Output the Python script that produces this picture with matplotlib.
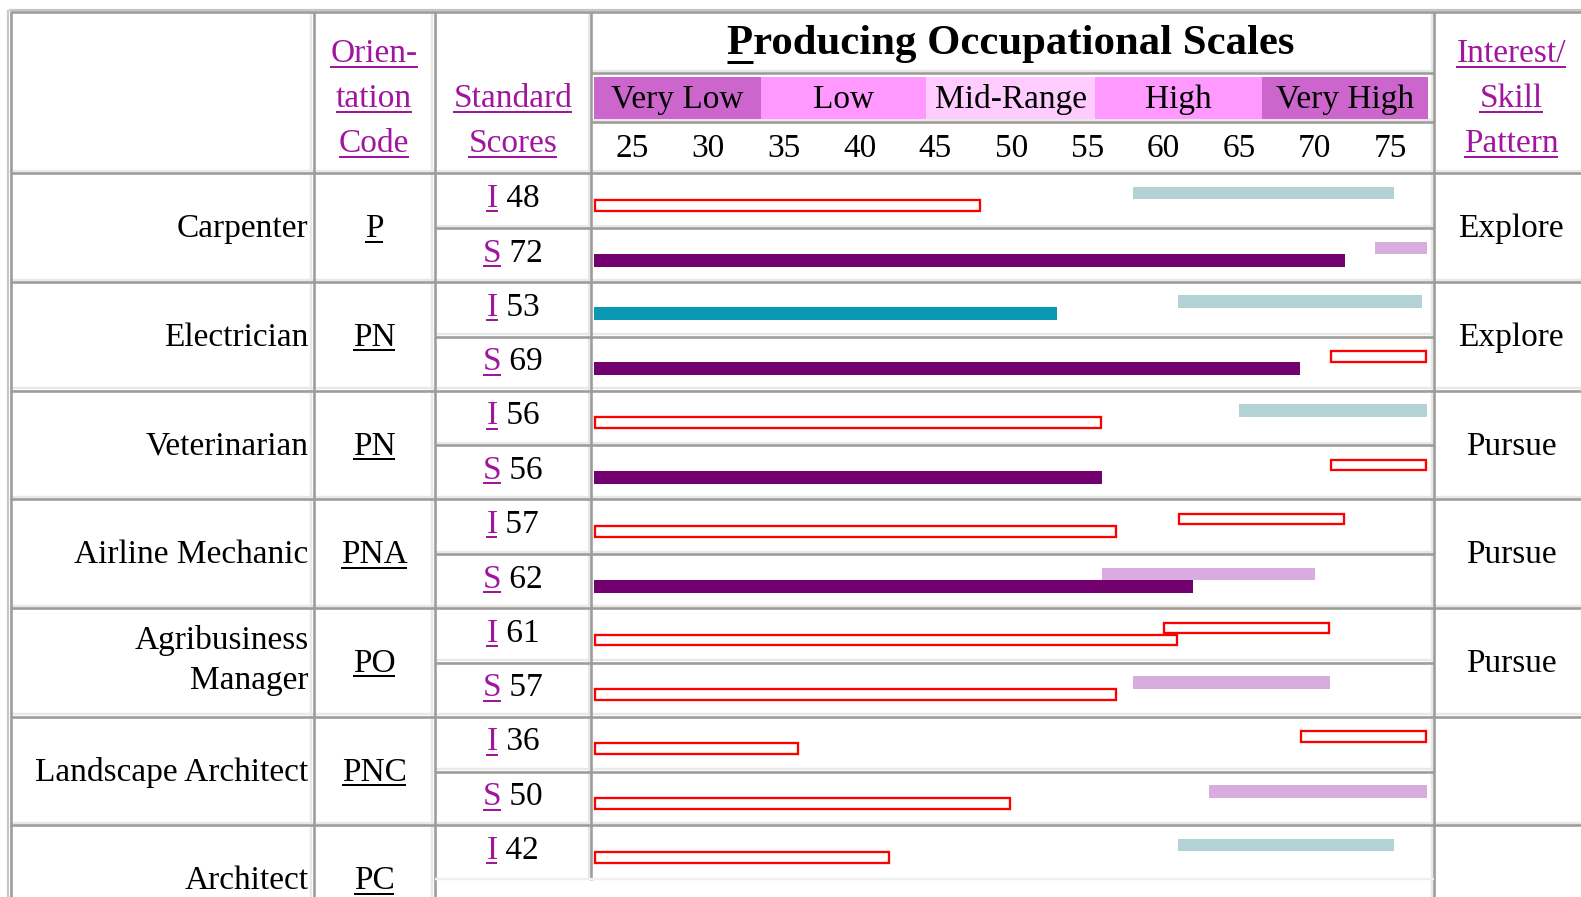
import matplotlib
matplotlib.use('Agg')
import matplotlib.pyplot as plt

plt.rcParams['font.family'] = ['Liberation Serif', 'DejaVu Serif']

# ---------------- data ----------------
occupations = ["Carpenter", "Electrician", "Veterinarian", "Airline Mechanic",
               "Agribusiness\nManager", "Landscape Architect", "Architect"]
codes = ["P", "PN", "PN", "PNA", "PO", "PNC", "PC"]
interest_scores = [48, 53, 56, 57, 61, 36, 42]
skill_scores = [72, 69, 56, 62, 57, 50, None]
interest_lo = [58, 61, 65, 61, 60, 69, 61]
interest_hi = [75.2, 77.1, 77.4, 72, 71, 77.4, 75.2]
skill_lo = [74, 71, 71, 56, 58, 63, None]
skill_hi = [77.4, 77.4, 77.4, 70, 71, 77.4, None]
patterns = ["Explore", "Explore", "Pursue", "Pursue", "Pursue", "", ""]
interest_score_style = ["outline", "teal", "outline", "outline", "outline", "outline", "outline"]
skill_score_style = ["purple", "purple", "purple", "purple", "outline", "outline", None]
interest_range_style = ["teal", "teal", "teal", "outline", "outline", "outline", "teal"]
skill_range_style = ["lilac", "outline", "outline", "lilac", "lilac", "lilac", None]
bands = ["Very Low", "Low", "Mid-Range", "High", "Very High"]
band_edges = [22.5, 33.5, 44.4, 55.5, 66.5, 77.5]
ticks = [25, 30, 35, 40, 45, 50, 55, 60, 65, 70, 75]
header_code = ["Orien-", "tation", "Code"]
header_scores = ["Standard", "Scores"]
header_pattern = ["Interest/", "Skill", "Pattern"]
title = "Producing Occupational Scales"

# ---------------- style ----------------
PURPLE_LINK = '#a0169e'
DARK = '#9d9c98'
LIGHT = '#e8e8e8'
RED = '#ff0000'
FILL = {'teal': '#0a99b3', 'purple': '#72006e'}
RANGE = {'teal': '#b2d2d5', 'lilac': '#d8acdf'}
BAND_COLORS = ['#cc66cc', '#ff99ff', '#ffccff', '#ff99ff', '#cc66cc']
FS = 24
PT = 0.72  # px -> pt at dpi 100

W, H = 1581, 897
X_L, X1, X2, X3, X4 = 10, 313.5, 434.6, 591, 1434
Y_T, Y_TITLE, Y_BAND, Y_HEAD = 12, 73, 122, 173.3
ROW_H, SUB_H = 108.7, 54.8
PX0, PX_PER = 252.8, 15.17
SCALE_MIN = 22.5

fig = plt.figure(figsize=(W / 100, H / 100), dpi=100)
fig.patch.set_facecolor('white')
ax = fig.add_axes([0, 0, 1, 1])
ax.set_xlim(0, W)
ax.set_ylim(H, 0)
ax.axis('off')

bx = fig.add_axes([X3 / W, 0, (X4 - X3) / W, 1])
bx.set_xlim((X3 - PX0) / PX_PER, (X4 - PX0) / PX_PER)
bx.set_ylim(H, 0)
bx.axis('off')
bx.patch.set_visible(False)


def hline(y, x0, x1, light=True):
    if light:
        ax.plot([x0, x1], [y - 2.4, y - 2.4], color=LIGHT, lw=2.4 * PT, solid_capstyle='butt', zorder=1)
    ax.plot([x0, x1], [y, y], color=DARK, lw=2.6 * PT, solid_capstyle='butt', zorder=2)


def vline(x, y0, y1, light=True, color=DARK):
    if light:
        ax.plot([x - 2.4, x - 2.4], [y0, y1], color=LIGHT, lw=2.4 * PT, solid_capstyle='butt', zorder=1)
    ax.plot([x, x], [y0, y1], color=color, lw=2.6 * PT, solid_capstyle='butt', zorder=2)


# outer border
ax.plot([X_L - 1.5, W], [Y_T - 2, Y_T - 2], color='#c6c6c6', lw=2.2 * PT, solid_capstyle='butt')
ax.plot([X_L - 2, X_L - 2], [Y_T - 2, H], color='#c6c6c6', lw=2.2 * PT, solid_capstyle='butt')
hline(Y_T + 0.5, X_L, W, light=False)
vline(X_L + 0.5, Y_T, H, light=False)

# header lines
vline(X1, Y_T, H)
vline(X2, Y_T, H)
vline(X3, Y_T, 880)
vline(X4, Y_T, H)
hline(Y_TITLE, X3, X4)
hline(Y_BAND, X3, X4)
hline(Y_HEAD, X_L, W)

n = len(occupations)
for i in range(n):
    top = Y_HEAD + i * ROW_H
    if i > 0:
        hline(top, X_L, W)
    if i < n - 1:
        hline(top + SUB_H, X2, X4)
# bottom of the last visible sub row
ax.plot([X2, X4], [879, 879], color='#efefef', lw=2.4 * PT, solid_capstyle='butt')

underlines = []


def text(axis, x, y, s, ha='center', color='black', size=FS, weight='normal',
         ul=None, ul_off=5, ul_lw=2):
    t = axis.text(x, y, s, ha=ha, va='baseline', color=color, fontsize=size,
                  fontweight=weight, zorder=5)
    if ul:
        underlines.append((t, y + ul_off, ul_lw, color))
    return t


# header texts
for k, s in enumerate(header_code):
    text(ax, (X1 + X2) / 2, 62 + 45 * k, s, color=PURPLE_LINK, ul=True)
for k, s in enumerate(header_scores):
    text(ax, (X2 + X3) / 2, 107 + 45 * k, s, color=PURPLE_LINK, ul=True)
for k, s in enumerate(header_pattern):
    text(ax, 1511, 62 + 45 * k, s, color=PURPLE_LINK, ul=True)

# title (first letter underlined)
t_title = text(ax, 1011, 54, title, size=30.8, weight='bold')
t_p = text(ax, 0, 54, title[0], size=30.8, weight='bold', ha='left')
t_p.set_alpha(0)

# band row
bx.barh([98] * len(bands), [band_edges[k + 1] - band_edges[k] for k in range(len(bands))],
        left=band_edges[:-1], height=42, color=BAND_COLORS, edgecolor='none', zorder=3)
for k, b in enumerate(bands):
    text(bx, (band_edges[k] + band_edges[k + 1]) / 2, 108, b)
for tk in ticks:
    text(bx, tk, 157, str(tk))

pairs = []
for i in range(n):
    top = Y_HEAD + i * ROW_H
    c = top + ROW_H / 2
    # occupation name
    lines = occupations[i].split('\n')
    if len(lines) == 1:
        text(ax, 308.5, c + 9.5, lines[0], ha='right')
    else:
        text(ax, 308.5, c - 13, lines[0], ha='right')
        text(ax, 308.5, c + 27, lines[1], ha='right')
    text(ax, (X1 + X2) / 2, c + 9.5, codes[i], ul=True, ul_off=4.5)
    if patterns[i]:
        text(ax, 1511, c + 9.5, patterns[i])

    rows = [("I", interest_scores[i], interest_lo[i], interest_hi[i],
             interest_score_style[i], interest_range_style[i], top)]
    if skill_scores[i] is not None:
        rows.append(("S", skill_scores[i], skill_lo[i], skill_hi[i],
                     skill_score_style[i], skill_range_style[i], top + SUB_H))
    for letter, score, lo, hi, sst, rst, st in rows:
        t1 = text(ax, 0, st + 33.5, letter, ha='left', color=PURPLE_LINK, ul=True, ul_off=4.5)
        t2 = text(ax, 0, st + 33.5, '\u00a0' + str(score), ha='left')
        pairs.append((t1, t2))
        dx = 1.1 / PX_PER
        # range bar
        yr = st + 19.75
        if rst == 'outline':
            bx.barh(yr, hi - lo - 2 * dx, left=lo + dx, height=10.3, facecolor='none',
                    edgecolor=RED, linewidth=2.3 * PT, zorder=4)
        else:
            bx.barh(yr, hi - lo, left=lo, height=12.5, color=RANGE[rst], zorder=3)
        # score bar
        ys = st + 32
        if sst == 'outline':
            bx.barh(ys, score - SCALE_MIN - 2 * dx, left=SCALE_MIN + dx, height=10.8,
                    facecolor='none', edgecolor=RED, linewidth=2.3 * PT, zorder=4)
        else:
            bx.barh(ys, score - SCALE_MIN, left=SCALE_MIN, height=13, color=FILL[sst], zorder=3)

# ---------- position measured texts ----------
renderer = fig.canvas.get_renderer()
inv = ax.transData.inverted()


def width_px(t):
    bb = t.get_window_extent(renderer)
    return bb.x1 - bb.x0


cx = (X2 + X3) / 2
for t1, t2 in pairs:
    w1, w2 = width_px(t1), width_px(t2)
    start = cx - (w1 + w2) / 2
    t1.set_x(start)
    t2.set_x(start + w1)

# title P underline position
bbt = t_title.get_window_extent(renderer)
t_p.set_x(inv.transform((bbt.x0, 0))[0])
underlines.append((t_p, 54 + 8, 3, 'black'))

for t, yy, lw, col in underlines:
    bb = t.get_window_extent(renderer)
    (x0, _), (x1, _) = inv.transform([(bb.x0, bb.y0), (bb.x1, bb.y0)])
    ax.plot([x0, x1], [yy, yy], color=col, lw=lw * PT, solid_capstyle='butt', zorder=5)

fig.savefig('out.png', dpi=100, facecolor='white')
